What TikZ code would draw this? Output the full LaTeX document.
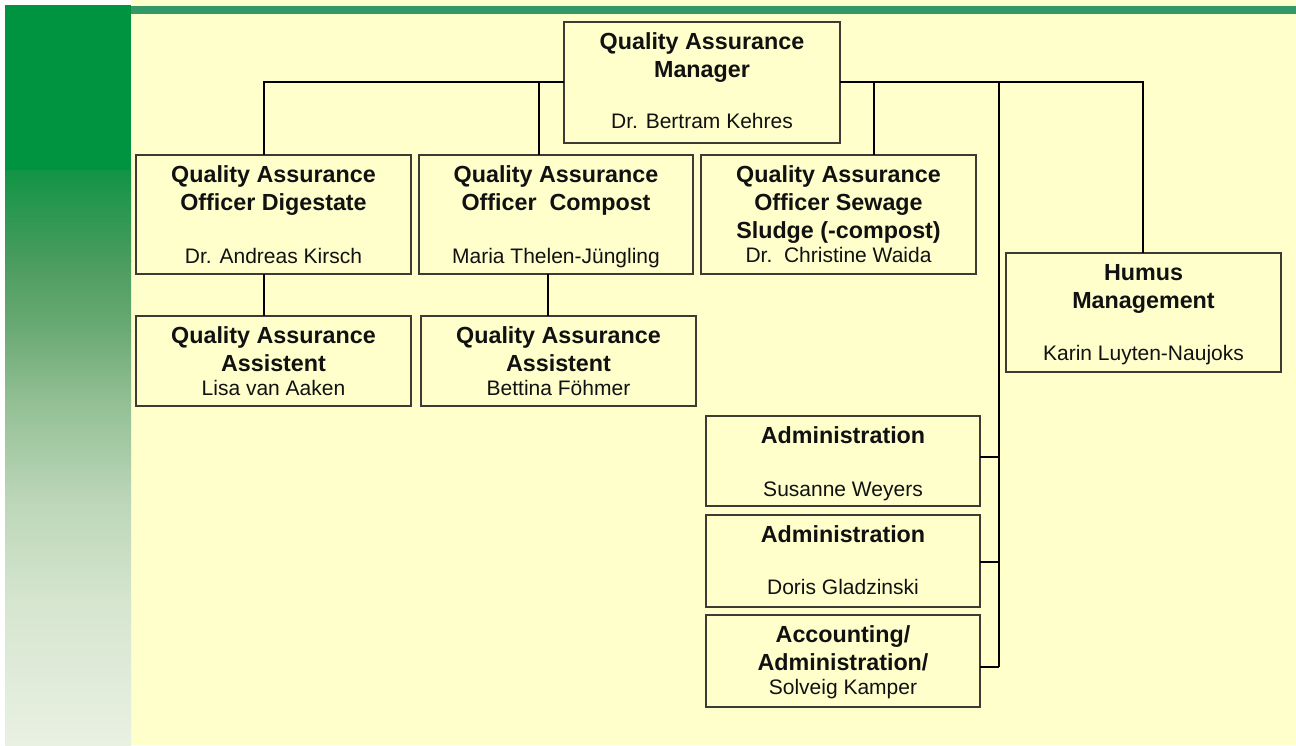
\documentclass[tikz,border=0pt]{standalone}
\usepackage{fontspec}
\setmainfont{Liberation Sans}
\usetikzlibrary{calc}
\definecolor{bg}{HTML}{FFFFCC}
\definecolor{bar}{HTML}{339966}
\definecolor{boxline}{HTML}{3C3C34}
\definecolor{txt}{HTML}{111111}
\definecolor{gA}{HTML}{009440}
\definecolor{gB}{HTML}{129445}
\definecolor{gC}{HTML}{4A9C5E}
\definecolor{gC2}{HTML}{6BAA75}
\definecolor{gD}{HTML}{92BF94}
\definecolor{gE}{HTML}{BCD6B8}
\definecolor{gF}{HTML}{D5E5CF}
\definecolor{gG}{HTML}{E9F1E2}
\begin{document}
\begin{tikzpicture}[x=1pt,y=-1pt,
  orgbox/.style={draw=boxline,line width=1.2pt,fill=bg,inner sep=0pt,outer sep=0pt,anchor=north west},
  ttl/.style={font=\fontsize{23.3}{28}\selectfont\bfseries,text=txt,align=center,anchor=base,inner sep=0pt},
  nm/.style={font=\fontsize{21}{25}\selectfont,text=txt,anchor=base,inner sep=0pt},
  conn/.style={draw=black,line width=2.3pt}]
\useasboundingbox (0,0) rectangle (1296,745);
% background
\fill[bg] (0,0) rectangle (1296,745);
\fill[white] (0,0) rectangle (5,745);
\fill[white] (0,0) rectangle (131,5);
% left gradient panel
\fill[gA] (5,5) rectangle (131,171);
\shade[top color=gB,bottom color=gC] (5,170) rectangle (131,261);
\shade[top color=gC,bottom color=gC2] (5,260) rectangle (131,331);
\shade[top color=gC2,bottom color=gD] (5,330) rectangle (131,401);
\shade[top color=gD,bottom color=gE] (5,400) rectangle (131,501);
\shade[top color=gE,bottom color=gF] (5,500) rectangle (131,601);
\shade[top color=gF,bottom color=gG] (5,600) rectangle (131,745);
% top bar
\fill[bar] (131,6) rectangle (1296,14);

% boxes
\node[orgbox,minimum width=276,minimum height=121] (mgr) at (564,22) {};
\node[orgbox,minimum width=275,minimum height=119] (dig) at (136,155) {};
\node[orgbox,minimum width=274,minimum height=119] (comp) at (419,155) {};
\node[orgbox,minimum width=275,minimum height=119] (sew) at (701,155) {};
\node[orgbox,minimum width=275,minimum height=119] (hum) at (1006,253) {};
\node[orgbox,minimum width=275,minimum height=90] (as1) at (136,316) {};
\node[orgbox,minimum width=275,minimum height=90] (as2) at (421,316) {};
\node[orgbox,minimum width=274,minimum height=90] (ad1) at (706,416) {};
\node[orgbox,minimum width=274,minimum height=92] (ad2) at (706,515) {};
\node[orgbox,minimum width=274,minimum height=92] (acc) at (706,615) {};

% texts (base anchor = baseline of the last title line)
\node[ttl] (mgrT) at ($(mgr.north)+(0,55.5)$) {Quality Assurance\\Manager};
\node[nm] (mgrN) at ($(mgr.north)+(0,106)$) {Dr. Bertram Kehres};
\node[ttl] (digT) at ($(dig.north)+(0,55.5)$) {Quality Assurance\\Officer Digestate};
\node[nm] (digN) at ($(dig.north)+(0,108)$) {Dr. Andreas Kirsch};
\node[ttl] (compT) at ($(comp.north)+(0,55.5)$) {Quality Assurance\\Officer\ \ Compost};
\node[nm] (compN) at ($(comp.north)+(0,108)$) {Maria Thelen-Jüngling};
\node[ttl] (sewT) at ($(sew.north)+(0,83.5)$) {Quality Assurance\\Officer Sewage\\Sludge (-compost)};
\node[nm] (sewN) at ($(sew.north)+(0,107)$) {Dr.\ \ Christine Waida};
\node[ttl] (humT) at ($(hum.north)+(0,55.5)$) {Humus\\Management};
\node[nm] (humN) at ($(hum.north)+(0,107)$) {Karin Luyten-Naujoks};
\node[ttl] (as1T) at ($(as1.north)+(0,55.5)$) {Quality Assurance\\Assistent};
\node[nm] (as1N) at ($(as1.north)+(0,79)$) {Lisa van Aaken};
\node[ttl] (as2T) at ($(as2.north)+(0,55.5)$) {Quality Assurance\\Assistent};
\node[nm] (as2N) at ($(as2.north)+(0,79)$) {Bettina Föhmer};
\node[ttl] (ad1T) at ($(ad1.north)+(0,27.5)$) {Administration};
\node[nm] (ad1N) at ($(ad1.north)+(0,80)$) {Susanne Weyers};
\node[ttl] (ad2T) at ($(ad2.north)+(0,27.5)$) {Administration};
\node[nm] (ad2N) at ($(ad2.north)+(0,79)$) {Doris Gladzinski};
\node[ttl] (accT) at ($(acc.north)+(0,55.5)$) {Accounting/\\Administration/};
\node[nm] (accN) at ($(acc.north)+(0,79)$) {Solveig Kamper};

% junction coordinates
\coordinate (jL) at (264,82);
\coordinate (jC) at (539,82);
\coordinate (jS) at (874,82);
\coordinate (jB) at (999,82);
\coordinate (jH) at (1143,82);
\coordinate (xC) at (548,0);
\coordinate (b1) at (999,457);
\coordinate (b2) at (999,562);
\coordinate (b3) at (999,667);

% connectors
\draw[conn] (mgr.west |- jL) -- (jL) -- (jL |- dig.north);
\draw[conn] (jC) -- (jC |- comp.north);
\draw[conn] (mgr.east |- jH) -- (jH) -- (jH |- hum.north);
\draw[conn] (jS) -- (jS |- sew.north);
\draw[conn] (jB) -- (b3);
\draw[conn] (ad1.east |- b1) -- (b1);
\draw[conn] (ad2.east |- b2) -- (b2);
\draw[conn] (acc.east |- b3) -- (b3);
\draw[conn] (dig.south -| jL) -- (jL |- as1.north);
\draw[conn] (comp.south -| xC) -- (xC |- as2.north);
\end{tikzpicture}
\end{document}
